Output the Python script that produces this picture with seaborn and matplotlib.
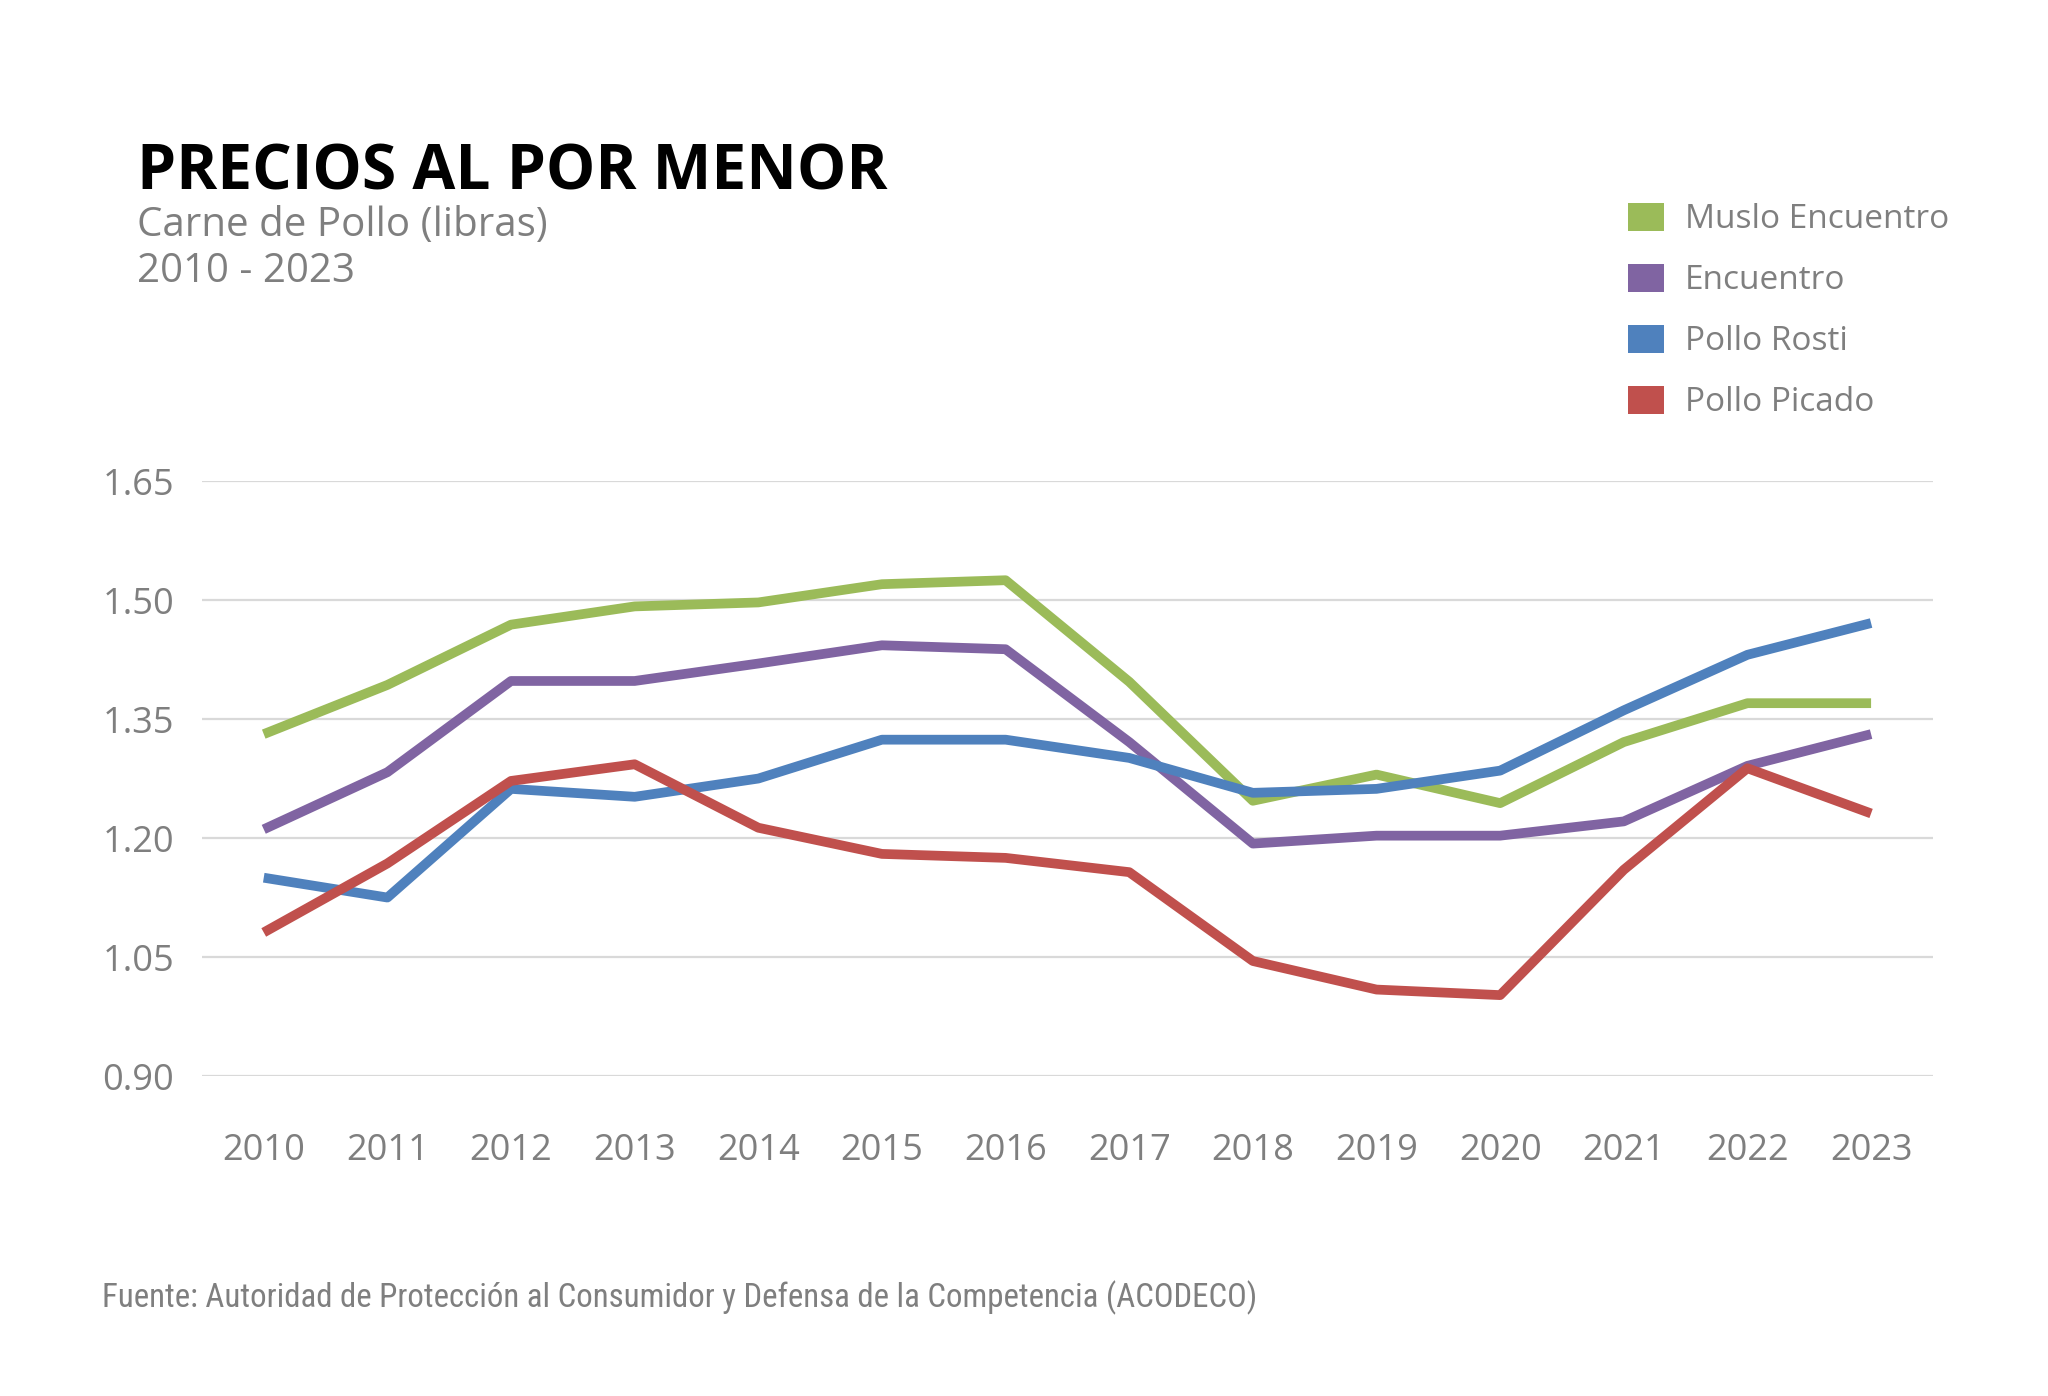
import pandas as pd
import matplotlib.pyplot as plt
import seaborn as sns
from matplotlib import font_manager
from matplotlib.patches import Patch

# Retail chicken prices per pound
years = list(range(2010, 2024))
muslo_encuentro = [1.331, 1.393, 1.469, 1.492, 1.497, 1.520, 1.525, 1.397, 1.247, 1.280, 1.244, 1.321, 1.370, 1.370]
encuentro = [1.211, 1.283, 1.398, 1.398, 1.420, 1.443, 1.438, 1.321, 1.193, 1.203, 1.203, 1.221, 1.291, 1.331]
pollo_rosti = [1.150, 1.125, 1.262, 1.252, 1.275, 1.324, 1.324, 1.301, 1.257, 1.262, 1.285, 1.361, 1.431, 1.471]
pollo_picado = [1.081, 1.168, 1.272, 1.293, 1.213, 1.180, 1.175, 1.157, 1.045, 1.009, 1.002, 1.160, 1.288, 1.231]

series_names = ["Muslo Encuentro", "Encuentro", "Pollo Rosti", "Pollo Picado"]
colors = ["#9BBB59", "#8064A2", "#4F81BD", "#C0504D"]
y_ticks = [0.90, 1.05, 1.20, 1.35, 1.50, 1.65]

df = pd.DataFrame({
    "year": years * 4,
    "price": muslo_encuentro + encuentro + pollo_rosti + pollo_picado,
    "series": [n for n in series_names for _ in years],
})

sns.set_theme(style="white")
plt.rcParams["font.family"] = ["Open Sans", "DejaVu Sans"]

# the source line uses a condensed face; take one if installed
installed = {f.name for f in font_manager.fontManager.ttflist}
narrow = "Lato"
for name in ["Liberation Sans Narrow", "Roboto Condensed", "Open Sans Condensed"]:
    if name in installed:
        narrow = name
        break

grey = "#7F7F7F"
fig = plt.figure(figsize=(20.48, 13.96), dpi=100)
ax = fig.add_axes([0.0986, 0.2292, 0.8452, 0.4262])

sns.lineplot(data=df, x="year", y="price", hue="series", hue_order=series_names,
             palette=colors, linewidth=7, legend=False, ax=ax, clip_on=False)
for line in ax.lines:
    line.set_solid_capstyle("butt")
    line.set_solid_joinstyle("round")

ax.set_xlim(2009.5, 2023.5)
ax.set_ylim(0.90, 1.65)
ax.set_yticks(y_ticks)
ax.set_yticklabels([f"{v:.2f}" for v in y_ticks])
ax.set_xticks(years)
ax.set_xticklabels([str(y) for y in years])
ax.grid(axis="y", color="#D9D9D9", linewidth=1.6)
ax.set_axisbelow(True)
ax.set_xlabel("")
ax.set_ylabel("")
for s in ax.spines.values():
    s.set_visible(False)
ax.tick_params(axis="x", length=0, pad=41, labelsize=26, labelcolor=grey)
ax.tick_params(axis="y", length=0, pad=20, labelsize=26, labelcolor=grey)

handles = [Patch(facecolor=c, edgecolor="none") for c in colors]
fig.legend(handles, series_names, loc="upper left", bbox_to_anchor=(0.795, 0.8545),
           frameon=False, fontsize=24, labelcolor=grey, handlelength=1.08,
           handleheight=0.9, handletextpad=0.63, labelspacing=0.83, borderpad=0,
           borderaxespad=0)

fig.text(0.0669, 1 - 189 / 1396, "PRECIOS AL POR MENOR", fontsize=44.8, fontweight="bold",
         color="black", va="baseline", ha="left")
fig.text(0.0669, 1 - 236 / 1396, "Carne de Pollo (libras)", fontsize=29, color=grey,
         va="baseline", ha="left")
fig.text(0.0669, 1 - 282 / 1396, "2010 - 2023", fontsize=29, color=grey,
         va="baseline", ha="left")
footer = fig.text(102 / 2048, 1 - 1307 / 1396,
                  "Fuente: Autoridad de Protección al Consumidor y Defensa de la Competencia (ACODECO)",
                  fontsize=24, color=grey, va="baseline", ha="left", family=[narrow, "DejaVu Sans"])

# fit the footer to the width it has in the original (about 1156 px)
renderer = fig.canvas.get_renderer()
w = footer.get_window_extent(renderer).width
footer.set_fontsize(24 * 1156 / w)

fig.savefig("out.png", dpi=100, facecolor="white")
